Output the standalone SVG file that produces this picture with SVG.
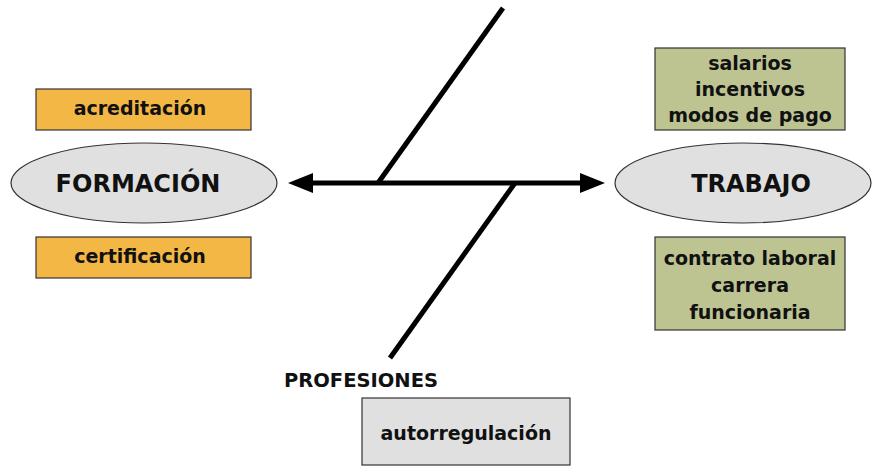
<svg xmlns="http://www.w3.org/2000/svg" width="874" height="466" viewBox="0 0 874 466">
<style>
.t{font-family:"DejaVu Sans","Liberation Sans",sans-serif;font-weight:bold;fill:#111;text-anchor:middle}
.s{font-size:19px}
.b{font-size:24px}
.or{fill:#F3B746;stroke:#333;stroke-width:1.2}
.gr{fill:#BDC491;stroke:#333;stroke-width:1.2}
.el{fill:#E0E0E0;stroke:#333;stroke-width:1.2}
.ln{stroke:#000;stroke-width:5;fill:none}
</style>
<rect width="874" height="466" fill="#fff"/>
<g id="connectors">
<line class="ln" x1="310" y1="183" x2="583" y2="183"/>
<polygon points="288,183 313,173 313,193" fill="#000"/>
<polygon points="605,183 580,173 580,193" fill="#000"/>
<line class="ln" x1="378" y1="183" x2="503" y2="8"/>
<line class="ln" x1="515" y1="183" x2="390" y2="358"/>
</g>
<g id="acreditacion">
<rect class="or" x="36" y="89" width="215" height="41"/>
<text class="t s" x="140" y="115">acreditación</text>
</g>
<g id="formacion">
<ellipse class="el" cx="144" cy="183" rx="133" ry="40"/>
<text class="t b" x="138" y="192">FORMACIÓN</text>
</g>
<g id="certificacion">
<rect class="or" x="36" y="237" width="215" height="41"/>
<text class="t s" x="140" y="263">certificación</text>
</g>
<g id="salarios">
<rect class="gr" x="655" y="48" width="190" height="82"/>
<text class="t s" x="750" y="70">salarios</text>
<text class="t s" x="750" y="96">incentivos</text>
<text class="t s" x="750" y="122">modos de pago</text>
</g>
<g id="trabajo">
<ellipse class="el" cx="743" cy="183" rx="128" ry="40"/>
<text class="t b" x="751" y="192">TRABAJO</text>
</g>
<g id="contrato">
<rect class="gr" x="655" y="237" width="190" height="93"/>
<text class="t s" x="750" y="265">contrato laboral</text>
<text class="t s" x="750" y="292">carrera</text>
<text class="t s" x="750" y="319">funcionaria</text>
</g>
<g id="profesiones">
<text class="t" style="font-size:19.5px" x="361" y="387">PROFESIONES</text>
</g>
<g id="autorregulacion">
<rect class="el" x="362" y="398" width="208" height="67"/>
<text class="t s" x="466" y="440">autorregulación</text>
</g>
</svg>
